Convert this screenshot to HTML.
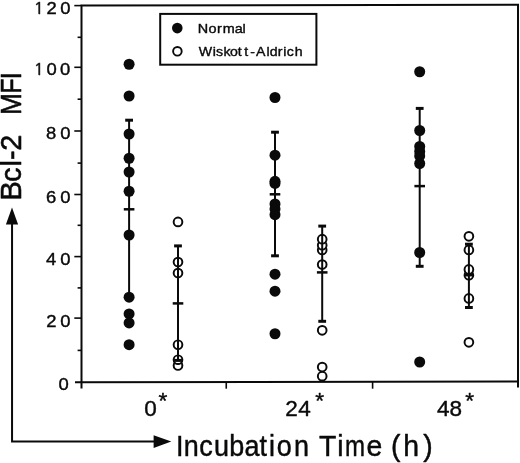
<!DOCTYPE html>
<html lang="en"><head><meta charset="utf-8"><title>Bcl-2 MFI vs Incubation Time</title>
<style>html,body{margin:0;padding:0;background:#fff}svg{display:block}</style></head><body>
<svg width="520" height="463" viewBox="0 0 520 463">
<rect width="520" height="463" fill="#fff"/>
<g stroke="#0a0a0a" fill="none" stroke-width="2">
<path d="M81.5 388.6V5.5L518 4.8V387.6"/>
<path d="M75 382.3L519 381.5"/>
</g>
<g stroke="#0a0a0a" stroke-width="1.6">
<path d="M74.3 5.6H81.5"/>
<path d="M74.3 67.3H81.5"/>
<path d="M74.3 131.0H81.5"/>
<path d="M74.3 194.5H81.5"/>
<path d="M74.3 256.6H81.5"/>
<path d="M74.3 318.1H81.5"/>
<path d="M77.6 37.3H81.5"/>
<path d="M77.6 99.2H81.5"/>
<path d="M77.6 163.1H81.5"/>
<path d="M77.6 225.3H81.5"/>
<path d="M77.6 287.9H81.5"/>
<path d="M77.6 350.4H81.5"/>
<path d="M226.25 382.0V388.7"/>
<path d="M372.6 382.0V388.7"/>
</g>
<rect x="160.2" y="13.9" width="156.2" height="50.8" fill="#fff" stroke="#0a0a0a" stroke-width="2"/>
<g fill="#0a0a0a" stroke="#0a0a0a" stroke-width="0.4" stroke-linejoin="round">
<text y="13.7" font-size="17.2" font-family="Liberation Sans, Arial, Helvetica, sans-serif" ><tspan x="33.63" font-family="NanumGothic, Liberation Sans, sans-serif" font-size="16.7" stroke-width="0.55">1</tspan><tspan x="46.47" textLength="10.24" lengthAdjust="spacingAndGlyphs">2</tspan><tspan x="60.18" textLength="10.24" lengthAdjust="spacingAndGlyphs">0</tspan></text>
<text y="75.35" font-size="17.2" font-family="Liberation Sans, Arial, Helvetica, sans-serif" ><tspan x="33.63" font-family="NanumGothic, Liberation Sans, sans-serif" font-size="16.7" stroke-width="0.55">1</tspan><tspan x="46.58" textLength="10.24" lengthAdjust="spacingAndGlyphs">0</tspan><tspan x="60.08" textLength="10.24" lengthAdjust="spacingAndGlyphs">0</tspan></text>
<text y="139.2" font-size="17.2" font-family="Liberation Sans, Arial, Helvetica, sans-serif" ><tspan x="46" textLength="10.24" lengthAdjust="spacingAndGlyphs">8</tspan><tspan x="60.28" textLength="10.24" lengthAdjust="spacingAndGlyphs">0</tspan></text>
<text y="202.5" font-size="17.2" font-family="Liberation Sans, Arial, Helvetica, sans-serif" ><tspan x="46.07" textLength="10.24" lengthAdjust="spacingAndGlyphs">6</tspan><tspan x="60.28" textLength="10.24" lengthAdjust="spacingAndGlyphs">0</tspan></text>
<text y="264.5" font-size="17.2" font-family="Liberation Sans, Arial, Helvetica, sans-serif" ><tspan x="46.08" textLength="10.24" lengthAdjust="spacingAndGlyphs">4</tspan><tspan x="60.28" textLength="10.24" lengthAdjust="spacingAndGlyphs">0</tspan></text>
<text y="326.5" font-size="17.2" font-family="Liberation Sans, Arial, Helvetica, sans-serif" ><tspan x="46.17" textLength="10.24" lengthAdjust="spacingAndGlyphs">2</tspan><tspan x="60.28" textLength="10.24" lengthAdjust="spacingAndGlyphs">0</tspan></text>
<text y="390.3" font-size="17.2" font-family="Liberation Sans, Arial, Helvetica, sans-serif" ><tspan x="58.48" textLength="10.24" lengthAdjust="spacingAndGlyphs">0</tspan></text>
<text y="415.6" font-size="21.9" font-family="Liberation Sans, Arial, Helvetica, sans-serif" ><tspan x="144.32" textLength="12.55" lengthAdjust="spacingAndGlyphs" y="415.6">0</tspan><tspan x="158.53" textLength="8.83" lengthAdjust="spacingAndGlyphs" font-size="21.6" y="407.8">*</tspan></text>
<text y="415.6" font-size="21.9" font-family="Liberation Sans, Arial, Helvetica, sans-serif" ><tspan x="285.27" textLength="12.55" lengthAdjust="spacingAndGlyphs" y="415.6">2</tspan><tspan x="298.38" textLength="12.55" lengthAdjust="spacingAndGlyphs" y="415.6">4</tspan><tspan x="315.33" textLength="8.83" lengthAdjust="spacingAndGlyphs" font-size="21.6" y="407.6">*</tspan></text>
<text y="415.5" font-size="21.9" font-family="Liberation Sans, Arial, Helvetica, sans-serif" ><tspan x="436.98" textLength="12.55" lengthAdjust="spacingAndGlyphs" y="415.5">4</tspan><tspan x="449.62" textLength="12.55" lengthAdjust="spacingAndGlyphs" y="415.5">8</tspan><tspan x="465.33" textLength="8.83" lengthAdjust="spacingAndGlyphs" font-size="21.6" y="407.8">*</tspan></text>
<text y="456.35" font-size="29" font-family="Liberation Sans, Arial, Helvetica, sans-serif" stroke-width="0.45"><tspan x="176.11" textLength="7.49" lengthAdjust="spacingAndGlyphs">I</tspan><tspan x="183.81" textLength="15" lengthAdjust="spacingAndGlyphs">n</tspan><tspan x="199.35" textLength="13.49" lengthAdjust="spacingAndGlyphs">c</tspan><tspan x="214.05" textLength="15" lengthAdjust="spacingAndGlyphs">u</tspan><tspan x="229.26" textLength="15" lengthAdjust="spacingAndGlyphs">b</tspan><tspan x="244.45" textLength="15" lengthAdjust="spacingAndGlyphs">a</tspan><tspan x="259.59" textLength="7.49" lengthAdjust="spacingAndGlyphs">t</tspan><tspan x="269" textLength="5.99" lengthAdjust="spacingAndGlyphs">i</tspan><tspan x="276.87" textLength="15" lengthAdjust="spacingAndGlyphs">o</tspan><tspan x="293.91" textLength="15" lengthAdjust="spacingAndGlyphs">n</tspan> <tspan x="318.96" textLength="17.36" lengthAdjust="spacingAndGlyphs">T</tspan><tspan x="337.3" textLength="6.31" lengthAdjust="spacingAndGlyphs">i</tspan><tspan x="345.1" textLength="20.05" lengthAdjust="spacingAndGlyphs">m</tspan><tspan x="366.59" textLength="15.81" lengthAdjust="spacingAndGlyphs">e</tspan> <tspan x="391.04" textLength="9.46" lengthAdjust="spacingAndGlyphs">(</tspan><tspan x="403.23" textLength="15.81" lengthAdjust="spacingAndGlyphs">h</tspan><tspan x="423.33" textLength="9.46" lengthAdjust="spacingAndGlyphs">)</tspan></text>
<g transform="translate(21.1,0) rotate(-90)">
<text y="0" font-size="29.8" font-family="Liberation Sans, Arial, Helvetica, sans-serif" stroke-width="0.6"><tspan x="-200.57" textLength="19.28" lengthAdjust="spacingAndGlyphs">B</tspan><tspan x="-182.03" textLength="14.45" lengthAdjust="spacingAndGlyphs">c</tspan><tspan x="-166.55" textLength="6.42" lengthAdjust="spacingAndGlyphs">l</tspan><tspan x="-159.98" textLength="9.63" lengthAdjust="spacingAndGlyphs">-</tspan><tspan x="-150.75" textLength="16.08" lengthAdjust="spacingAndGlyphs">2</tspan> <tspan x="-114.95" textLength="21.84" lengthAdjust="spacingAndGlyphs">M</tspan><tspan x="-93.6" textLength="14.93" lengthAdjust="spacingAndGlyphs">F</tspan><tspan x="-79.48" textLength="7.45" lengthAdjust="spacingAndGlyphs">I</tspan></text>
</g>
<text y="33.2" font-size="13.6" font-family="Liberation Sans, Arial, Helvetica, sans-serif" ><tspan x="197.82" textLength="10.41" lengthAdjust="spacingAndGlyphs">N</tspan><tspan x="208.59" textLength="8.02" lengthAdjust="spacingAndGlyphs">o</tspan><tspan x="217.14" textLength="4.8" lengthAdjust="spacingAndGlyphs">r</tspan><tspan x="222.84" textLength="12.01" lengthAdjust="spacingAndGlyphs">m</tspan><tspan x="234.69" textLength="8.02" lengthAdjust="spacingAndGlyphs">a</tspan><tspan x="242.43" textLength="3.2" lengthAdjust="spacingAndGlyphs">l</tspan></text>
<text y="55.7" font-size="13.6" font-family="Liberation Sans, Arial, Helvetica, sans-serif" ><tspan x="198.74" textLength="13.35" lengthAdjust="spacingAndGlyphs">W</tspan><tspan x="212.75" textLength="3.14" lengthAdjust="spacingAndGlyphs">i</tspan><tspan x="216.01" textLength="7.07" lengthAdjust="spacingAndGlyphs">s</tspan><tspan x="223.45" textLength="7.07" lengthAdjust="spacingAndGlyphs">k</tspan><tspan x="230.01" textLength="7.87" lengthAdjust="spacingAndGlyphs">o</tspan><tspan x="237.79" textLength="3.93" lengthAdjust="spacingAndGlyphs">t</tspan><tspan x="244.29" textLength="3.93" lengthAdjust="spacingAndGlyphs">t</tspan><tspan x="250.37" textLength="4.71" lengthAdjust="spacingAndGlyphs">-</tspan><tspan x="256.07" textLength="9.43" lengthAdjust="spacingAndGlyphs">A</tspan><tspan x="266.55" textLength="3.14" lengthAdjust="spacingAndGlyphs">l</tspan><tspan x="269.81" textLength="7.87" lengthAdjust="spacingAndGlyphs">d</tspan><tspan x="277.66" textLength="4.71" lengthAdjust="spacingAndGlyphs">r</tspan><tspan x="283.25" textLength="3.14" lengthAdjust="spacingAndGlyphs">i</tspan><tspan x="286.7" textLength="7.07" lengthAdjust="spacingAndGlyphs">c</tspan><tspan x="294.82" textLength="7.87" lengthAdjust="spacingAndGlyphs">h</tspan></text>
</g>
<path d="M12.05 224V441.4H154" stroke="#0a0a0a" stroke-width="2" fill="none"/>
<path d="M12 207.4L18.1 224.5H5.9Z" fill="#0a0a0a"/>
<path d="M171.3 441.6L153.6 447.9V435.3Z" fill="#0a0a0a"/>
<circle cx="177.3" cy="28.1" r="5.3" fill="#0a0a0a"/>
<circle cx="177.4" cy="51.3" r="4.3" fill="#fff" stroke="#0a0a0a" stroke-width="1.9"/>
<circle cx="178" cy="365.5" r="4.35" fill="#fff" stroke="#0a0a0a" stroke-width="1.95"/>
<circle cx="178" cy="359.7" r="4.35" fill="#fff" stroke="#0a0a0a" stroke-width="1.95"/>
<circle cx="178" cy="344.7" r="4.35" fill="#fff" stroke="#0a0a0a" stroke-width="1.95"/>
<circle cx="178" cy="273" r="4.35" fill="#fff" stroke="#0a0a0a" stroke-width="1.95"/>
<circle cx="178" cy="262" r="4.35" fill="#fff" stroke="#0a0a0a" stroke-width="1.95"/>
<circle cx="178" cy="221.9" r="4.35" fill="#fff" stroke="#0a0a0a" stroke-width="1.95"/>
<path d="M178 245.7V360.4" stroke="#0a0a0a" stroke-width="2" fill="none"/>
<path d="M174.1 245.89999999999998h7.8" stroke="#0a0a0a" stroke-width="3"/>
<path d="M174.1 360.4h7.8" stroke="#0a0a0a" stroke-width="3"/>
<path d="M172.7 303.4h10.6" stroke="#0a0a0a" stroke-width="2.5"/>
<path d="M129.1 120V297" stroke="#0a0a0a" stroke-width="2" fill="none"/>
<path d="M125.2 120.2h7.8" stroke="#0a0a0a" stroke-width="3"/>
<path d="M123.8 209.3h10.6" stroke="#0a0a0a" stroke-width="2.5"/>
<circle cx="129.1" cy="64.25" r="5.5" fill="#0a0a0a"/>
<circle cx="129.1" cy="96" r="5.5" fill="#0a0a0a"/>
<circle cx="129.1" cy="134" r="5.5" fill="#0a0a0a"/>
<circle cx="129.1" cy="158.25" r="5.5" fill="#0a0a0a"/>
<circle cx="129.1" cy="172" r="5.5" fill="#0a0a0a"/>
<circle cx="129.1" cy="191.25" r="5.5" fill="#0a0a0a"/>
<circle cx="129.1" cy="235" r="5.5" fill="#0a0a0a"/>
<circle cx="129.1" cy="297.2" r="5.5" fill="#0a0a0a"/>
<circle cx="129.1" cy="313.9" r="5.5" fill="#0a0a0a"/>
<circle cx="129.1" cy="322.9" r="5.5" fill="#0a0a0a"/>
<circle cx="129.1" cy="344.7" r="5.5" fill="#0a0a0a"/>
<circle cx="322.2" cy="376.2" r="4.35" fill="#fff" stroke="#0a0a0a" stroke-width="1.95"/>
<circle cx="322.2" cy="367.0" r="4.35" fill="#fff" stroke="#0a0a0a" stroke-width="1.95"/>
<circle cx="322.2" cy="330.3" r="4.35" fill="#fff" stroke="#0a0a0a" stroke-width="1.95"/>
<circle cx="322.2" cy="264.5" r="4.35" fill="#fff" stroke="#0a0a0a" stroke-width="1.95"/>
<circle cx="322.2" cy="250" r="4.35" fill="#fff" stroke="#0a0a0a" stroke-width="1.95"/>
<circle cx="322.2" cy="245.2" r="4.35" fill="#fff" stroke="#0a0a0a" stroke-width="1.95"/>
<circle cx="322.2" cy="239.2" r="4.35" fill="#fff" stroke="#0a0a0a" stroke-width="1.95"/>
<path d="M322.2 225.9V321.3" stroke="#0a0a0a" stroke-width="2" fill="none"/>
<path d="M318.3 226.1h7.8" stroke="#0a0a0a" stroke-width="3"/>
<path d="M318.3 321.3h7.8" stroke="#0a0a0a" stroke-width="3"/>
<path d="M316.9 272.4h10.6" stroke="#0a0a0a" stroke-width="2.5"/>
<path d="M275.0 132V255.8" stroke="#0a0a0a" stroke-width="2" fill="none"/>
<path d="M271.1 132.2h7.8" stroke="#0a0a0a" stroke-width="3"/>
<path d="M271.1 255.8h7.8" stroke="#0a0a0a" stroke-width="3"/>
<path d="M269.7 194.3h10.6" stroke="#0a0a0a" stroke-width="2.5"/>
<circle cx="275.0" cy="97.5" r="5.5" fill="#0a0a0a"/>
<circle cx="275.0" cy="155.2" r="5.5" fill="#0a0a0a"/>
<circle cx="275.0" cy="181.3" r="5.5" fill="#0a0a0a"/>
<circle cx="275.0" cy="183.4" r="5.5" fill="#0a0a0a"/>
<circle cx="275.0" cy="203.9" r="5.5" fill="#0a0a0a"/>
<circle cx="275.0" cy="209" r="5.5" fill="#0a0a0a"/>
<circle cx="275.0" cy="214.7" r="5.5" fill="#0a0a0a"/>
<circle cx="275.0" cy="274.2" r="5.5" fill="#0a0a0a"/>
<circle cx="275.0" cy="291.2" r="5.5" fill="#0a0a0a"/>
<circle cx="275.0" cy="333.75" r="5.5" fill="#0a0a0a"/>
<circle cx="468.9" cy="342.3" r="4.35" fill="#fff" stroke="#0a0a0a" stroke-width="1.95"/>
<circle cx="468.9" cy="298.4" r="4.35" fill="#fff" stroke="#0a0a0a" stroke-width="1.95"/>
<circle cx="468.9" cy="275.2" r="4.35" fill="#fff" stroke="#0a0a0a" stroke-width="1.95"/>
<circle cx="468.9" cy="269.4" r="4.35" fill="#fff" stroke="#0a0a0a" stroke-width="1.95"/>
<circle cx="468.9" cy="249.9" r="4.35" fill="#fff" stroke="#0a0a0a" stroke-width="1.95"/>
<circle cx="468.9" cy="236.3" r="4.35" fill="#fff" stroke="#0a0a0a" stroke-width="1.95"/>
<path d="M468.9 244V307.5" stroke="#0a0a0a" stroke-width="2" fill="none"/>
<path d="M465 244.2h7.8" stroke="#0a0a0a" stroke-width="3"/>
<path d="M465 307.5h7.8" stroke="#0a0a0a" stroke-width="3"/>
<path d="M464.4 275.2h9" stroke="#0a0a0a" stroke-width="2.5"/>
<path d="M419.7 108.2V266.3" stroke="#0a0a0a" stroke-width="2" fill="none"/>
<path d="M415.8 108.4h7.8" stroke="#0a0a0a" stroke-width="3"/>
<path d="M415.8 266.3h7.8" stroke="#0a0a0a" stroke-width="3"/>
<path d="M414.4 186.1h10.6" stroke="#0a0a0a" stroke-width="2.5"/>
<circle cx="419.7" cy="71.75" r="5.5" fill="#0a0a0a"/>
<circle cx="419.7" cy="130.5" r="5.5" fill="#0a0a0a"/>
<circle cx="419.7" cy="146.4" r="5.5" fill="#0a0a0a"/>
<circle cx="419.7" cy="151.5" r="5.5" fill="#0a0a0a"/>
<circle cx="419.7" cy="156" r="5.5" fill="#0a0a0a"/>
<circle cx="419.7" cy="163.5" r="5.5" fill="#0a0a0a"/>
<circle cx="419.7" cy="252.5" r="5.5" fill="#0a0a0a"/>
<circle cx="419.7" cy="362" r="5.5" fill="#0a0a0a"/>
</svg></body></html>
